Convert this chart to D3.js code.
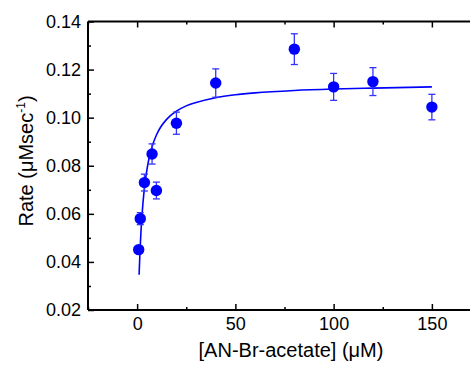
<!DOCTYPE html>
<html><head><meta charset="utf-8">
<script src="https://cdn.jsdelivr.net/npm/d3@7"></script>
<style>
html,body{margin:0;padding:0;background:#fff;overflow:hidden;}
text{font-family:"Liberation Sans",Arial,sans-serif;fill:#000;}
</style></head>
<body><svg id="c" width="470" height="367"></svg>
<script>
// measured data
const conc = [0.8, 1.6, 3.7, 7.6, 9.8, 20, 40, 80, 100, 120, 150];
const rate = [0.0451, 0.058, 0.073, 0.0849, 0.0697, 0.0977, 0.1144, 0.1285, 0.1128, 0.115, 0.1044];
const rateErr = [0.001, 0.0025, 0.0035, 0.0042, 0.0035, 0.0046, 0.0059, 0.0064, 0.0056, 0.0058, 0.0053];
// fitted curve
const fitConc = [1, 1.5, 2, 3, 4, 5, 6, 8, 10, 12, 15, 20, 25, 30, 40, 50, 60, 80, 100, 120, 150];
const fitRate = [0.0347, 0.0452, 0.0533, 0.0648, 0.0727, 0.0784, 0.0828, 0.0889, 0.0931, 0.0961, 0.0993, 0.1027, 0.1049, 0.1063, 0.1083, 0.1095, 0.1103, 0.1113, 0.1119, 0.1123, 0.1128];
const xTicks = [0, 50, 100, 150];
const xMinor = [-25, 25, 75, 125, 175];
const yTicks = [0.02, 0.04, 0.06, 0.08, 0.10, 0.12, 0.14];
const yMinor = [0.03, 0.05, 0.07, 0.09, 0.11, 0.13];

const svg = d3.select("#c");
const L = 88, T = 21.5, B = 310;
const x = d3.scaleLinear().domain([-25, 175]).range([L, L + 393]);
const y = d3.scaleLinear().domain([0.02, 0.14]).range([B, T]);
const blue = "#0000ff";

// frame lines
const g = svg.append("g");
g.append("line").attr("x1", L).attr("x2", 480).attr("y1", B).attr("y2", B).attr("stroke", "#000").attr("stroke-width", 2);
g.append("line").attr("x1", L).attr("x2", 480).attr("y1", T).attr("y2", T).attr("stroke", "#000").attr("stroke-width", 2);
g.append("line").attr("x1", L).attr("x2", L).attr("y1", T).attr("y2", B).attr("stroke", "#000").attr("stroke-width", 2);

// bottom axis (inward ticks)
const xb = d3.axisBottom(x).tickValues(xTicks).tickSize(-6).tickPadding(7).tickFormat(d3.format("d"));
const gx = svg.append("g").attr("transform", `translate(0,${B})`).call(xb);
gx.select(".domain").remove();
gx.selectAll(".tick line").attr("stroke", "#000").attr("stroke-width", 1.5);
gx.selectAll("text").style("font-size", "18px").attr("fill", "#000");
svg.append("g").attr("transform", `translate(0,${B})`).call(d3.axisBottom(x).tickValues(xMinor).tickSize(-3).tickFormat(""))
  .call(s => { s.select(".domain").remove(); s.selectAll("line").attr("stroke", "#000").attr("stroke-width", 1.5); });
// top axis ticks
svg.append("g").attr("transform", `translate(0,${T})`).call(d3.axisTop(x).tickValues(xTicks).tickSize(-6).tickFormat(""))
  .call(s => { s.select(".domain").remove(); s.selectAll("line").attr("stroke", "#000").attr("stroke-width", 1.5); });
svg.append("g").attr("transform", `translate(0,${T})`).call(d3.axisTop(x).tickValues(xMinor).tickSize(-3).tickFormat(""))
  .call(s => { s.select(".domain").remove(); s.selectAll("line").attr("stroke", "#000").attr("stroke-width", 1.5); });

// left axis
const gy = svg.append("g").attr("transform", `translate(${L},0)`).call(d3.axisLeft(y).tickValues(yTicks).tickSize(-6).tickPadding(7).tickFormat(d3.format(".2f")));
gy.select(".domain").remove();
gy.selectAll(".tick line").attr("stroke", "#000").attr("stroke-width", 1.5);
gy.selectAll("text").style("font-size", "18px").attr("fill", "#000");
svg.append("g").attr("transform", `translate(${L},0)`).call(d3.axisLeft(y).tickValues(yMinor).tickSize(-3).tickFormat(""))
  .call(s => { s.select(".domain").remove(); s.selectAll("line").attr("stroke", "#000").attr("stroke-width", 1.5); });

// fit curve
const fit = fitConc.map((c, i) => [c, fitRate[i]]);
svg.append("path").datum(fit)
  .attr("d", d3.line().x(d => x(d[0])).y(d => y(d[1])).curve(d3.curveMonotoneX))
  .attr("fill", "none").attr("stroke", blue).attr("stroke-width", 1.6);

// error bars
const pts = conc.map((c, i) => ({c, r: rate[i], e: rateErr[i]}));
const eb = svg.append("g").attr("stroke", "#3333ff").attr("stroke-width", 1.3);
pts.forEach(p => {
  const cx = x(p.c), y1 = y(p.r + p.e), y2 = y(p.r - p.e);
  eb.append("line").attr("x1", cx).attr("x2", cx).attr("y1", y1).attr("y2", y2);
  eb.append("line").attr("x1", cx - 3.5).attr("x2", cx + 3.5).attr("y1", y1).attr("y2", y1);
  eb.append("line").attr("x1", cx - 3.5).attr("x2", cx + 3.5).attr("y1", y2).attr("y2", y2);
});
// points
svg.append("g").selectAll("circle").data(pts).join("circle")
  .attr("cx", d => x(d.c)).attr("cy", d => y(d.r)).attr("r", 5.7).attr("fill", blue);

// titles
svg.append("text").attr("x", 291).attr("y", 357).attr("text-anchor", "middle").style("font-size", "20px")
  .text("[AN-Br-acetate] (μM)");
const yt = svg.append("text").attr("transform", "translate(33,161) rotate(-90)").attr("text-anchor", "middle").style("font-size", "20px");
yt.append("tspan").text("Rate (μMsec");
yt.append("tspan").attr("dy", -8).style("font-size", "12px").text("-1");
yt.append("tspan").attr("dy", 8).text(")");
</script></body></html>
